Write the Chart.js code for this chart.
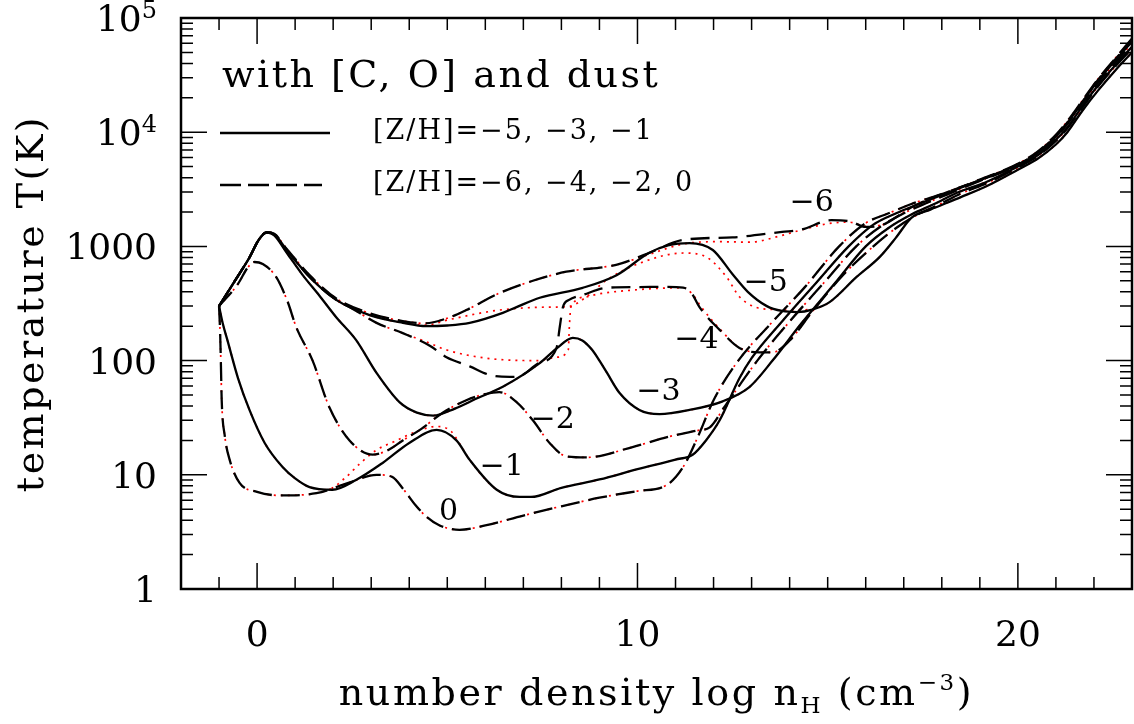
<!DOCTYPE html>
<html lang="en">
<head>
<meta charset="UTF-8">
<title>Temperature vs number density</title>
<script src="https://cdn.jsdelivr.net/npm/chart.js"></script>
<style>
  html, body { margin: 0; padding: 0; background: #fff; }
  #wrap { width: 1134px; height: 724px; }
</style>
</head>
<body>
<div id="wrap"><canvas id="tempChart" width="1134" height="724"></canvas></div>
<script>
// [x = log nH, T in K], one list per metallicity
const z6 = [[-1,300],[-0.6,490],[-0.2,800],[0.05,1150],[0.25,1330],[0.45,1290],[0.78,950],[1.38,560],[2.08,350],[2.96,260],[3.83,222],[4.4,212],[5.0,235],[5.5,277],[6.37,390],[7.25,500],[8.13,600],[9.44,690],[10.3,875],[11.2,1140],[12.5,1200],[13.8,1340],[14.3,1400],[15.1,1700],[15.6,1650],[16.0,1480],[16.45,1550],[16.8,1800],[17.2,2200],[18.1,2950],[19,3800],[20,5200],[20.5,6600],[21,9300],[21.3,12200],[21.7,18500],[22.1,28500],[22.6,45000],[23,64000]];
const z6red = [[-1,300],[-0.6,490],[-0.2,800],[0.05,1150],[0.25,1330],[0.45,1290],[0.78,950],[1.38,560],[2.08,350],[2.96,260],[3.83,222],[4.4,212],[5.0,235],[5.5,277],[6.37,390],[7.25,500],[8.13,600],[9.44,690],[10.3,850],[11.2,1050],[12.07,1100],[12.95,1090],[13.8,1250],[14.26,1380],[15.0,1580],[15.57,1630],[16.0,1500],[16.45,1550],[16.8,1800],[17.2,2200],[18.1,2950],[19,3800],[20,5200],[20.5,6600],[21,9300],[21.3,12200],[21.7,18500],[22.1,28500],[22.6,45000],[23,64000]];

const z5 = [[-1,300],[-0.6,490],[-0.2,800],[0.05,1150],[0.25,1330],[0.45,1280],[0.78,930],[1.38,540],[2.08,340],[2.96,250],[3.83,214],[4.45,200],[5.0,203],[5.59,214],[6.46,262],[6.82,294],[7.43,355],[8.56,434],[9.45,560],[10.3,875],[10.8,1020],[11.37,1070],[11.98,930],[12.5,570],[12.9,400],[13.4,300],[13.8,272],[14.2,266],[14.6,280],[15.05,325],[15.76,540],[16.37,810],[16.8,1200],[17.2,1780],[17.7,2100],[18.5,2700],[19.2,3400],[20,4700],[20.5,5800],[21,7800],[21.3,10000],[21.7,15500],[22.1,23000],[22.6,36000],[23,50000]];
const z5red = [[-1,300],[-0.6,490],[-0.2,800],[0.05,1150],[0.25,1330],[0.45,1280],[0.78,930],[1.38,540],[2.08,340],[2.96,250],[3.83,214],[4.45,205],[5.06,229],[6.37,277],[7.69,294],[8.2,298],[8.66,362],[9.18,505],[10.05,710],[11.2,875],[11.8,810],[12.34,540],[12.68,362],[13.1,294],[13.6,280],[14.1,277],[14.6,282],[15.05,325],[15.76,540],[16.37,810],[16.8,1200],[17.2,1780],[17.7,2100],[18.5,2700],[19.2,3400],[20,4700],[20.5,5800],[21,7800],[21.3,10000],[21.7,15500],[22.1,23000],[22.6,36000],[23,50000]];

const z4 = [[-1,300],[-0.6,490],[-0.2,800],[0.05,1150],[0.25,1320],[0.45,1270],[0.78,930],[1.38,540],[2.08,340],[2.43,295],[3.14,214],[3.83,174],[4.54,135],[4.98,107],[5.59,89],[6.11,75],[6.64,72],[6.95,74],[7.4,95],[7.87,128],[7.96,200],[8.04,294],[8.2,340],[8.56,375],[9.18,434],[10.0,440],[10.76,443],[11.2,435],[11.4,400],[11.63,294],[12.16,186],[12.68,129],[13.2,118],[13.55,118],[14.0,150],[14.6,270],[15.4,560],[16.2,1000],[16.8,1450],[17.3,1850],[17.9,2300],[18.5,2900],[19.2,3600],[20,4900],[20.5,6100],[21,8400],[21.3,10800],[21.7,16500],[22.1,25000],[22.6,39000],[23,54000]];
const z4red = [[-1,300],[-0.6,490],[-0.2,800],[0.05,1150],[0.25,1320],[0.45,1270],[0.78,930],[1.38,540],[2.08,340],[2.43,295],[3.14,214],[3.83,174],[4.54,142],[4.98,124],[6.03,105],[7.35,100],[7.87,107],[8.18,124],[8.21,200],[8.25,294],[8.66,362],[9.0,385],[9.9,415],[10.6,430],[11.2,434],[11.45,380],[11.68,294],[12.16,190],[12.68,130],[13.2,118],[13.55,118],[14.0,150],[14.6,270],[15.4,560],[16.2,1000],[16.8,1450],[17.3,1850],[17.9,2300],[18.5,2900],[19.2,3600],[20,4900],[20.5,6100],[21,8400],[21.3,10800],[21.7,16500],[22.1,25000],[22.6,39000],[23,54000]];

const z3 = [[-1,300],[-0.6,490],[-0.2,800],[0.05,1150],[0.25,1320],[0.45,1250],[0.78,880],[1.2,560],[1.64,370],[2.08,240],[2.6,152],[3.14,78],[3.75,43],[4.2,35],[4.63,33],[5.2,38],[5.8,47],[6.46,59],[7.43,95],[7.9,130],[8.3,158],[8.55,150],[8.8,125],[9.0,100],[9.2,78],[9.53,52],[10.05,37],[10.58,34],[11.37,37],[12.24,44],[12.95,59],[13.55,100],[14.3,210],[15.2,480],[16.0,1000],[16.6,1450],[17.2,1900],[17.8,2350],[18.4,2950],[19.2,3700],[20,5000],[20.5,6200],[21,8600],[21.3,11000],[21.7,17000],[22.1,25500],[22.6,40000],[23,56000]];

const z2 = [[-1,300],[-0.5,470],[-0.25,650],[-0.07,730],[0.15,700],[0.5,540],[0.8,330],[1.03,196],[1.46,100],[1.9,39],[2.43,20],[3.04,15],[3.45,16.5],[3.83,20],[4.3,25],[4.88,35],[5.5,45],[6.0,51],[6.37,53],[6.8,44],[7.25,30],[7.69,19],[8.13,14.5],[8.66,14.2],[9.87,17.5],[10.8,21.5],[11.6,24.5],[11.9,26],[12.3,40],[13.15,100],[14.0,220],[14.9,480],[15.75,1000],[16.4,1500],[17.0,1950],[17.6,2400],[18.2,2900],[19,3750],[20,5100],[20.5,6400],[21,9000],[21.3,11800],[21.7,18000],[22.1,27000],[22.6,42000],[23,60000]];

const z1 = [[-1,300],[-0.9,210],[-0.78,151],[-0.5,70],[-0.2,37],[0.2,19],[0.67,11.7],[1.0,9.3],[1.38,7.8],[1.98,7.4],[2.6,9],[3.3,12.7],[4.0,19],[4.72,24.7],[5.24,20],[5.59,13.5],[6.3,7.4],[6.9,6.4],[7.2,6.4],[8,7.7],[9,9.1],[10,11.2],[11,13.6],[11.45,15],[11.8,20],[12.16,30],[12.68,70],[13.0,105],[13.8,220],[14.7,480],[15.55,1000],[16.2,1550],[16.8,1950],[17.4,2350],[18.1,2900],[19,3800],[20,5200],[20.5,6500],[21,9200],[21.3,12000],[21.7,18500],[22.1,28000],[22.6,44000],[23,62000]];
const z1red = [[-1,300],[-0.9,210],[-0.78,151],[-0.5,70],[-0.2,37],[0.2,19],[0.67,11.7],[1.0,9.3],[1.38,7.8],[1.83,7.4],[2.3,9.3],[2.7,12.5],[3.14,16.5],[3.6,19.5],[4.2,24],[4.72,26.5],[5.1,24],[5.4,17],[5.59,13.5],[6.3,7.4],[6.9,6.4],[7.2,6.4],[8,7.7],[9,9.1],[10,11.2],[11,13.6],[11.45,15],[11.8,20],[12.16,30],[12.68,70],[13.0,105],[13.8,220],[14.7,480],[15.55,1000],[16.2,1550],[16.8,1950],[17.4,2350],[18.1,2900],[19,3800],[20,5200],[20.5,6500],[21,9200],[21.3,12000],[21.7,18500],[22.1,28000],[22.6,44000],[23,62000]];

const z0 = [[-1,300],[-0.97,170],[-0.95,90],[-0.93,45],[-0.85,22],[-0.72,13.5],[-0.46,8.5],[0,7.1],[0.6,6.6],[1.56,6.9],[2.4,8.5],[3.14,10],[3.55,9.6],[3.83,7.6],[4.15,5.5],[4.45,4.3],[4.8,3.6],[5.32,3.3],[6,3.6],[7,4.4],[8,5.3],[9,6.3],[10,7.2],[10.76,8.1],[11.2,11.7],[11.6,22],[12.0,45],[12.65,100],[13.5,210],[14.4,440],[15.3,1000],[16.0,1600],[16.6,1950],[17.2,2350],[18.1,2950],[19,3850],[20,5300],[20.5,6700],[21,9500],[21.3,12500],[21.7,19000],[22.1,29000],[22.6,46000],[23,66000]];

const curveNames = ['\u22126', '\u22125', '\u22124', '\u22123', '\u22122', '\u22121', '0'];
const yTickValues = [1, 10, 100, 1000, 1e4, 1e5];
const yTickLabels = [['1', ''], ['10', ''], ['100', ''], ['1000', ''], ['10', '4'], ['10', '5']];
const xTickValues = [0, 10, 20];
const xTickLabels = ['0', '10', '20'];

const serif = '"DejaVu Serif", serif';
const pts = a => a.map(([x, y]) => ({ x, y }));

// black curves on top, red dotted ones underneath (shows through dash gaps)
function blackSet(arr, dashed) {
  return { data: pts(arr), borderColor: '#000', borderWidth: 2.3, borderDash: dashed ? [19, 9] : [], order: 0 };
}
function redSet(arr) {
  return { data: pts(arr), borderColor: '#ff0000', borderWidth: 1.7, borderDash: [2, 5], order: 1 };
}

// draws a run of text pieces (for sub/superscripts)
function richText(ctx, parts, x, y, align, spacing) {
  ctx.letterSpacing = spacing + 'px';
  let w = 0;
  parts.forEach(p => { ctx.font = p.size + 'px ' + serif; p.w = ctx.measureText(p.t).width; w += p.w; });
  let cx = align === 'center' ? x - w / 2 : align === 'right' ? x - w : x;
  ctx.textAlign = 'left';
  parts.forEach(p => {
    ctx.font = p.size + 'px ' + serif;
    ctx.fillText(p.t, cx, y + (p.dy || 0));
    cx += p.w;
  });
  ctx.letterSpacing = '0px';
}

const framePlugin = {
  id: 'frame',
  afterDatasetsDraw(chart) {
    const { ctx, chartArea: a, scales: { x, y } } = chart;
    ctx.save();
    ctx.strokeStyle = '#000';
    ctx.fillStyle = '#000';

    // ticks on all four sides, pointing in
    ctx.lineWidth = 1.5;
    ctx.beginPath();
    for (let v = -2; v <= 23; v++) {
      const px = x.getPixelForValue(v);
      const len = v % 10 === 0 ? 26 : 12;
      ctx.moveTo(px, a.bottom); ctx.lineTo(px, a.bottom - len);
      ctx.moveTo(px, a.top); ctx.lineTo(px, a.top + len);
    }
    for (let d = 0; d < 5; d++) {
      for (let m = 1; m <= 9; m++) {
        const py = y.getPixelForValue(m * Math.pow(10, d));
        const len = m === 1 ? 26 : 12;
        ctx.moveTo(a.left, py); ctx.lineTo(a.left + len, py);
        ctx.moveTo(a.right, py); ctx.lineTo(a.right - len, py);
      }
    }
    ctx.stroke();
    ctx.lineWidth = 2.5;
    ctx.strokeRect(a.left, a.top, a.right - a.left, a.bottom - a.top);

    // tick labels
    ctx.textBaseline = 'alphabetic';
    yTickValues.forEach((v, i) => {
      const py = y.getPixelForValue(v) + 13;
      const [base, sup] = yTickLabels[i];
      const parts = [{ t: base, size: 36 }];
      if (sup) parts.push({ t: sup, size: 24, dy: -13 });
      richText(ctx, parts, 157, py, 'right', 0);
    });
    xTickValues.forEach((v, i) => {
      richText(ctx, [{ t: xTickLabels[i], size: 36 }], x.getPixelForValue(v), 646, 'center', 0);
    });

    // axis titles
    richText(ctx, [
      { t: 'number density log n', size: 38 },
      { t: 'H', size: 23, dy: 8 },
      { t: ' (cm', size: 38 },
      { t: '\u22123', size: 23, dy: -15 },
      { t: ')', size: 38 }
    ], (a.left + a.right) / 2, 705, 'center', 2.6);
    ctx.save();
    ctx.translate(43, (a.top + a.bottom) / 2);
    ctx.rotate(-Math.PI / 2);
    richText(ctx, [{ t: 'temperature T(K)', size: 38 }], 0, 0, 'center', 2.5);
    ctx.restore();

    // legend block
    richText(ctx, [{ t: 'with [C, O] and dust', size: 38 }], 222, 87, 'left', 2.5);
    ctx.lineWidth = 2.4;
    ctx.setLineDash([]);
    ctx.beginPath(); ctx.moveTo(220, 133); ctx.lineTo(330, 133); ctx.stroke();
    ctx.setLineDash([21, 7]);
    ctx.beginPath(); ctx.moveTo(220, 185); ctx.lineTo(322, 185); ctx.stroke();
    ctx.setLineDash([]);
    richText(ctx, [{ t: '[Z/H]=\u22125, \u22123, \u22121', size: 27 }], 373, 139, 'left', 2);
    richText(ctx, [{ t: '[Z/H]=\u22126, \u22124, \u22122, 0', size: 27 }], 373, 191, 'left', 2);

    // curve labels
    const spots = [[14.58, 2400], [13.37, 480], [11.55, 151], [10.55, 53], [7.77, 30], [6.43, 11.7], [5.03, 4.7]];
    ctx.textBaseline = 'middle';
    spots.forEach(([sx, sy], i) => {
      richText(ctx, [{ t: curveNames[i], size: 30 }], x.getPixelForValue(sx), y.getPixelForValue(sy), 'center', 0);
    });
    ctx.restore();
  }
};

new Chart(document.getElementById('tempChart'), {
  type: 'line',
  data: {
    datasets: [
      blackSet(z6, true), blackSet(z5, false), blackSet(z4, true), blackSet(z3, false),
      blackSet(z2, true), blackSet(z1, false), blackSet(z0, true),
      redSet(z6red), redSet(z5red), redSet(z4red), redSet(z3),
      redSet(z2), redSet(z1red), redSet(z0)
    ]
  },
  options: {
    responsive: false,
    animation: false,
    layout: { padding: { left: 181, right: 2, top: 18, bottom: 135 } },
    elements: {
      point: { radius: 0 },
      line: { cubicInterpolationMode: 'monotone', fill: false }
    },
    scales: {
      x: { type: 'linear', min: -2, max: 23, display: false },
      y: { type: 'logarithmic', min: 1, max: 1e5, display: false }
    },
    plugins: { legend: { display: false }, tooltip: { enabled: false } }
  },
  plugins: [framePlugin]
});
</script>
</body>
</html>
